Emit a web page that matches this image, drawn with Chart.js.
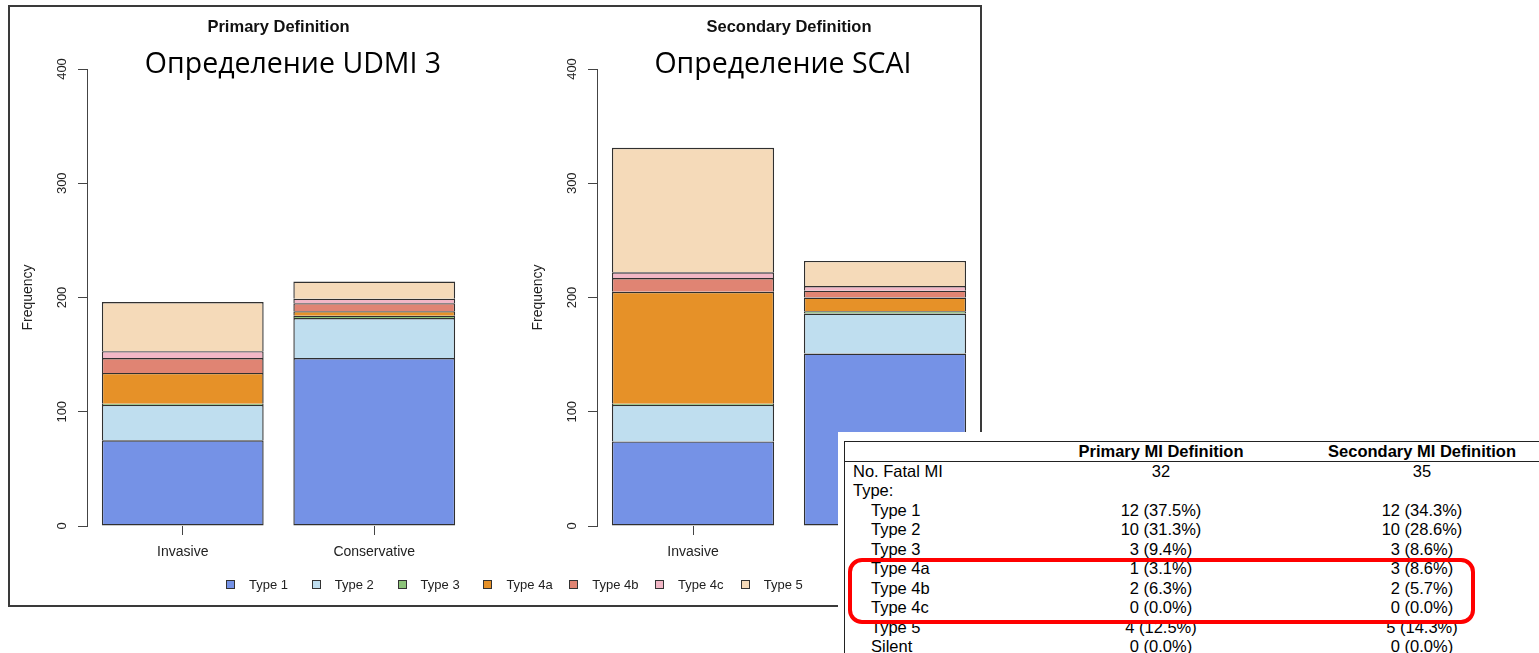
<!DOCTYPE html>
<html lang="ru">
<head>
<meta charset="utf-8">
<title>Fatal MI types</title>
<script src="https://cdn.jsdelivr.net/npm/chart.js@4.4.1/dist/chart.umd.min.js"></script>
<style>
  html, body { margin: 0; padding: 0; background: #fff; }
  body { width: 1539px; height: 653px; position: relative; overflow: hidden; font-family: "Liberation Sans", Arial, sans-serif; }
  #frame { position: absolute; left: 8px; top: 5px; width: 970px; height: 598px; border: 2px solid #3a3a3a; }
  canvas { position: absolute; top: 0; z-index: 1; }
  #c1 { left: 0; }
  #c2 { left: 490px; }
  #legend { position: absolute; left: 226px; top: 576px; height: 18px; display: flex; font-size: 13px; color: #222; z-index: 2; }
  .item { width: 85.8px; position: relative; height: 18px; }
  .item .sw { position: absolute; left: 0; top: 4px; width: 7px; height: 7px; border: 1px solid #333; }
  .item .lb { position: absolute; left: 23px; top: 0; line-height: 18px; white-space: nowrap; }
  #table { position: absolute; left: 838px; top: 432px; width: 701px; height: 221px; background: #fff; z-index: 5; font-size: 16.5px; color: #000; }
  #box { position: absolute; left: 6px; top: 9px; right: 0; bottom: -5px; border-top: 1px solid #222; border-left: 1px solid #222; }
  #headline { position: absolute; left: 6px; right: 0; top: 29px; border-top: 1px solid #222; }
  .cell { position: absolute; white-space: nowrap; height: 20px; line-height: 20px; }
  .mid { width: 240px; text-align: center; }
  .head { font-weight: bold; }
  #ring { position: absolute; left: 848px; top: 558px; width: 627px; height: 66px; border: 4px solid #f00; border-radius: 14px; box-sizing: border-box; z-index: 6; }
</style>
</head>
<body>
<div id="frame"></div>
<canvas id="c1" width="490" height="610"></canvas>
<canvas id="c2" width="510" height="610"></canvas>
<div id="legend"></div>
<div id="table"><div id="box"></div><div id="headline"></div></div>
<div id="ring"></div>
<script>
// данные графиков (частота по типам ИМ)
const categories = ["Invasive", "Conservative"];
const seriesNames = ["Type 1", "Type 2", "Type 3", "Type 4a", "Type 4b", "Type 4c", "Type 5"];
const primaryInvasive = [75, 31, 1, 27, 13, 6, 43];
const primaryConservative = [147, 35, 2, 4, 7, 4, 15];
const secondaryInvasive = [74, 32, 1, 98, 12, 5, 109];
const secondaryConservative = [151, 35, 2, 12, 6, 4, 22];
const yTicks = [0, 100, 200, 300, 400];

// таблица
const tableHeaders = ["Primary MI Definition", "Secondary MI Definition"];
const tableRows = ["No. Fatal MI", "Type:", "Type 1", "Type 2", "Type 3", "Type 4a", "Type 4b", "Type 4c", "Type 5", "Silent"];
const tablePrimary = ["32", "", "12 (37.5%)", "10 (31.3%)", "3 (9.4%)", "1 (3.1%)", "2 (6.3%)", "0 (0.0%)", "4 (12.5%)", "0 (0.0%)"];
const tableSecondary = ["35", "", "12 (34.3%)", "10 (28.6%)", "3 (8.6%)", "3 (8.6%)", "2 (5.7%)", "0 (0.0%)", "5 (14.3%)", "0 (0.0%)"];

const colors = ["#7592e6", "#bfdeef", "#8dc47a", "#e69128", "#e08473", "#f2b7c6", "#f5dab9"];
const FONT = '"Liberation Sans", Arial, sans-serif';

// надпись поверх графика
const ruTitle = {
    id: "ruTitle",
    afterDraw(chart, args, opts) {
        const ctx = chart.ctx;
        ctx.save();
        ctx.font = '28.5px "Open Sans"';
        ctx.fillStyle = "#000";
        ctx.textAlign = "center";
        ctx.textBaseline = "alphabetic";
        ctx.fillText(opts.text, opts.x, opts.y);
        ctx.restore();
    },
};

function makeChart(id, title, ru, invasive, conservative, axisWidth, padRight, freqPad) {
    const datasets = seriesNames.map((name, i) => ({
        label: name,
        data: [invasive[i], conservative[i]],
        backgroundColor: colors[i],
        borderColor: "#303030",
        borderWidth: 1.4,
        borderSkipped: i === 0 ? false : "start",
        inflateAmount: 0,
        barPercentage: 0.845,
        categoryPercentage: 1,
    }));

    return new Chart(document.getElementById(id), {
        type: "bar",
        data: { labels: categories, datasets },
        plugins: [ruTitle],
        options: {
            responsive: false,
            animation: false,
            layout: { padding: { left: 0, right: padRight, top: 0, bottom: 0 } },
            plugins: {
                legend: { display: false },
                tooltip: { enabled: false },
                title: {
                    display: true,
                    text: title,
                    fullSize: false,
                    color: "#111",
                    font: { family: FONT, size: 16.5, weight: "bold" },
                    padding: { top: 18, bottom: 31.2 },
                },
                ruTitle: { text: ru, x: 293, y: 72.5 },
            },
            scales: {
                x: {
                    stacked: true,
                    grid: { display: true, drawOnChartArea: false, offset: false, tickLength: 9, color: "#444" },
                    border: { display: false },
                    ticks: { padding: 9, color: "#222", font: { family: FONT, size: 14 } },
                    afterFit: (s) => { s.height = 84; },
                },
                y: {
                    stacked: true,
                    min: yTicks[0],
                    max: yTicks[yTicks.length - 1],
                    afterBuildTicks: (s) => { s.ticks = yTicks.map((v) => ({ value: v })); },
                    grid: { drawOnChartArea: false, tickLength: 9, color: "#444" },
                    border: { display: true, color: "#444", width: 1 },
                    ticks: {
                        minRotation: 90,
                        maxRotation: 90,
                        crossAlign: "center",
                        padding: 5,
                        color: "#222",
                        font: { family: FONT, size: 13 },
                    },
                    title: {
                        display: true,
                        text: "Frequency",
                        color: "#222",
                        font: { family: FONT, size: 14 },
                        padding: { top: freqPad, bottom: 0 },
                    },
                    afterFit: (s) => { s.width = axisWidth; },
                },
            },
        },
    });
}

makeChart("c1", "Primary Definition", "Определение UDMI 3", primaryInvasive, primaryConservative, 87, 20, 19.6);
makeChart("c2", "Secondary Definition", "Определение SCAI", secondaryInvasive, secondaryConservative, 107, 19, 39.6);

// легенда
const legend = document.getElementById("legend");
seriesNames.forEach((name, i) => {
    legend.insertAdjacentHTML("beforeend",
        `<div class="item"><span class="sw" style="background:${colors[i]}"></span><span class="lb">${name}</span></div>`);
});

// таблица справа внизу
const table = document.getElementById("table");
function addCell(text, cls, left, top) {
    const d = document.createElement("div");
    d.className = "cell " + cls;
    d.style.left = left + "px";
    d.style.top = top + "px";
    d.textContent = text;
    table.appendChild(d);
}
const colCenters = [323, 584];
tableHeaders.forEach((h, j) => addCell(h, "mid head", colCenters[j] - 120, 9));
tableRows.forEach((label, i) => {
    const top = 29 + 19.45 * i;
    addCell(label, "", i < 2 ? 15 : 33, top);
    addCell(tablePrimary[i], "mid", colCenters[0] - 120, top);
    addCell(tableSecondary[i], "mid", colCenters[1] - 120, top);
});
</script>
</body>
</html>
